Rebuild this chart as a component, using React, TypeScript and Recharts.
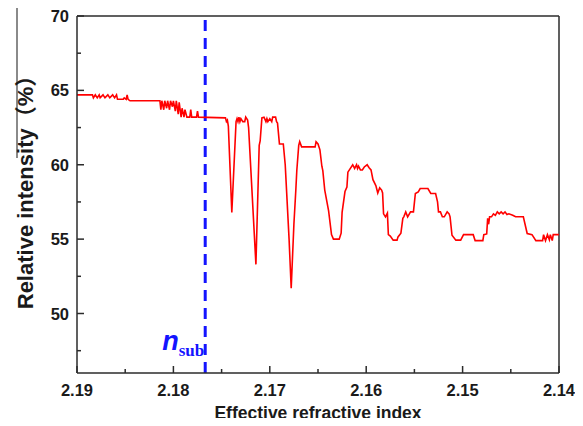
import { LineChart, Line, XAxis, YAxis, ReferenceLine } from "recharts";

// values (x descends from 2.19 to 2.14)
const refIndex = [
  2.19, 2.1884, 2.1883, 2.1881, 2.1879, 2.1877, 2.1876, 2.1873, 2.1871, 2.1868,
  2.1866, 2.1863, 2.1861, 2.1859, 2.1858, 2.1852, 2.1851, 2.1849, 2.1848, 2.1847,
  2.1845, 2.1814, 2.1813, 2.1812, 2.181, 2.1809, 2.1807, 2.1806, 2.1804, 2.1803,
  2.1801, 2.18, 2.1798, 2.1797, 2.1795, 2.1794, 2.1792, 2.1791, 2.1789, 2.1788,
  2.1786, 2.1783, 2.1782, 2.1781, 2.1776, 2.1775, 2.1774, 2.1746, 2.1745, 2.1744,
  2.1743, 2.17394, 2.1735, 2.1734, 2.1733, 2.1732, 2.1731, 2.173, 2.1728, 2.1726,
  2.1725, 2.1723, 2.1722, 2.17144, 2.1711, 2.171, 2.17082, 2.1706, 2.1704, 2.1703,
  2.1702, 2.17, 2.1698, 2.1697, 2.1694, 2.1693, 2.1692, 2.169, 2.1686, 2.1684,
  2.168, 2.16778, 2.1675, 2.1673, 2.1672, 2.167, 2.1669, 2.1667, 2.1653, 2.1652,
  2.165, 2.1648, 2.1646, 2.1645, 2.1643, 2.1639, 2.1636, 2.1634, 2.1628, 2.1626,
  2.1625, 2.1622, 2.162, 2.1619, 2.1614, 2.1612, 2.161, 2.1609, 2.1608, 2.1606,
  2.1604, 2.1602, 2.1599, 2.1597, 2.1595, 2.1593, 2.159, 2.1588, 2.1586, 2.1584,
  2.1583, 2.1582, 2.158, 2.1578, 2.1577, 2.1575, 2.1572, 2.1568, 2.1567, 2.1564,
  2.1562, 2.1561, 2.1559, 2.1557, 2.1554, 2.1551, 2.1549, 2.1546, 2.1544, 2.1536,
  2.1533, 2.1528, 2.1526, 2.1525, 2.1523, 2.1521, 2.1519, 2.1516, 2.1514, 2.1513,
  2.1511, 2.1507, 2.1502, 2.1499, 2.1489, 2.1487, 2.1479, 2.1478, 2.1475, 2.1474,
  2.1473, 2.1472, 2.147, 2.1468, 2.1466, 2.1464, 2.1462, 2.146, 2.1458, 2.1456,
  2.1454, 2.1452, 2.1448, 2.1445, 2.1437, 2.1433, 2.1428, 2.1424, 2.1417, 2.1416,
  2.1414, 2.1412, 2.141, 2.1409, 2.1407, 2.1406, 2.14,
];

const intensity = [
  64.7, 64.7, 64.5, 64.7, 64.5, 64.7, 64.5, 64.7, 64.5, 64.7,
  64.5, 64.7, 64.5, 64.7, 64.4, 64.4, 64.5, 64.4, 64.7, 64.4,
  64.3, 64.3, 63.7, 64.3, 63.7, 64.3, 63.8, 64.3, 63.7, 64.3,
  63.9, 64.3, 63.6, 64.3, 63.4, 64.2, 63.2, 63.8, 63.2, 63.7,
  63.2, 63.2, 63.7, 63.2, 63.2, 63.6, 63.2, 63.15, 62.9, 63.0,
  62.6, 56.8, 62.9, 63.1, 62.9, 63.2, 62.9, 63.1, 62.9, 62.9,
  63.2, 63.0, 62.5, 53.3, 61.3, 61.6, 63.15, 63.2, 62.9, 63.1,
  62.9, 63.1, 62.9, 63.2, 63.2, 62.9, 62.8, 61.4, 61.4, 60.0,
  55.0, 51.7, 56.0, 58.3, 59.6, 61.3, 61.55, 61.2, 61.2, 61.55,
  61.4, 61.0, 59.9, 59.6, 58.3, 56.9, 55.3, 55.0, 55.0, 55.4,
  56.8, 58.2, 58.5, 59.5, 60.0, 59.75, 60.0, 59.75, 59.9, 59.65,
  59.65, 59.85, 60.0, 59.8, 59.65, 59.0, 58.6, 58.1, 58.45, 58.3,
  58.1, 56.7, 56.5, 56.75, 55.3, 55.2, 54.93, 54.93, 55.15, 55.4,
  56.4, 56.5, 56.83, 56.5, 56.83, 56.83, 58.07, 58.18, 58.4, 58.4,
  58.07, 58.07, 57.5, 56.83, 56.83, 56.5, 56.5, 56.83, 56.7, 56.5,
  55.26, 54.93, 54.93, 55.3, 55.3, 54.9, 54.9, 55.3, 55.35, 56.4,
  56.0, 56.5, 56.5, 56.7, 56.6, 56.83, 56.7, 56.83, 56.7, 56.83,
  56.65, 56.7, 56.6, 56.5, 56.5, 55.38, 55.3, 54.9, 54.9, 55.3,
  54.9, 55.3, 54.95, 55.3, 54.9, 55.3, 55.3,
];

const xTicks = [2.19, 2.185, 2.18, 2.175, 2.17, 2.165, 2.16, 2.155, 2.15, 2.145, 2.14];
const xTickLabels = ["2.19", "", "2.18", "", "2.17", "", "2.16", "", "2.15", "", "2.14"];
const yTicks = [47.5, 50, 52.5, 55, 57.5, 60, 62.5, 65, 67.5, 70];
const yTickLabels = ["", "50", "", "55", "", "60", "", "65", "", "70"];

const nSub = 2.1767;

const data = refIndex.map((x, i) => ({ x, y: intensity[i] }));

const AXIS = "#2b2b2b";
const FONT = "'Liberation Sans', Arial, 'Noto Sans CJK SC', sans-serif";
const BLUE = "#1414ff";

const XTick = (props: any) => {
  const { x, y, index } = props;
  const label = xTickLabels[index];
  return (
    <g>
      <line x1={x} x2={x} y1={y} y2={y - (label ? 7 : 4)} stroke={AXIS} strokeWidth={1.5} />
      {label && (
        <text x={x} y={y + 23} textAnchor="middle" fontFamily={FONT} fontWeight="bold" fontSize={16.5} fill="#1a1a1a">
          {label}
        </text>
      )}
    </g>
  );
};

const YTick = (props: any) => {
  const { x, y, index } = props;
  const label = yTickLabels[index];
  return (
    <g>
      <line x1={x} x2={x + (label ? 7 : 4)} y1={y} y2={y} stroke={AXIS} strokeWidth={1.5} />
      {label && (
        <text x={x - 8} y={y + 6} textAnchor="end" fontFamily={FONT} fontWeight="bold" fontSize={16.5} fill="#1a1a1a">
          {label}
        </text>
      )}
    </g>
  );
};

const NSubLabel = (props: any) => {
  const vb = props.viewBox || { x: 205, y: 16, height: 357 };
  return (
    <text x={vb.x - 43} y={vb.y + vb.height - 23} fill={BLUE} fontFamily={FONT} fontWeight="bold" fontStyle="italic" fontSize={27}>
      n
      <tspan dy={6} fontFamily="'Liberation Serif', 'Times New Roman', serif" fontStyle="normal" fontSize={17}>
        sub
      </tspan>
    </text>
  );
};

// y title plus the grey edge stroke that sits left of it in the source image
const YTitle = () => (
  <g>
    <line x1={17} x2={17} y1={8} y2={158} stroke="#8a8a8a" strokeWidth={2} />
    <text
      transform="translate(33,187) rotate(-90)"
      textAnchor="middle"
      fontFamily={FONT}
      fontWeight="bold"
      fontSize={22}
      fill="#1a1a1a"
    >
      Relative intensity（%）
    </text>
  </g>
);

export default function App() {
  return (
    <div style={{ width: 583, height: 426, margin: -8, background: "#fff" }}>
      <LineChart width={583} height={426} data={data} margin={{ top: 16, right: 24, bottom: 23, left: 27 }}>
        <XAxis
          dataKey="x"
          type="number"
          domain={[2.14, 2.19]}
          reversed
          allowDataOverflow
          ticks={xTicks}
          interval={0}
          tick={<XTick />}
          tickLine={false}
          tickSize={0}
          tickMargin={0}
          height={30}
          axisLine={{ stroke: AXIS, strokeWidth: 1.5 }}
          label={{
            value: "Effective refractive index",
            position: "bottom",
            offset: 4,
            style: { fontFamily: FONT, fontWeight: "bold", fontSize: 17.5, fill: "#1a1a1a" },
          }}
        />
        <YAxis
          type="number"
          domain={[46, 70]}
          allowDataOverflow
          ticks={yTicks}
          interval={0}
          tick={<YTick />}
          tickLine={false}
          tickSize={0}
          tickMargin={0}
          width={50}
          axisLine={{ stroke: AXIS, strokeWidth: 1.5 }}
          label={() => <YTitle />}
        />
        <ReferenceLine y={70} stroke={AXIS} strokeWidth={1.5} />
        <ReferenceLine x={2.14} stroke={AXIS} strokeWidth={1.5} />
        <ReferenceLine
          x={nSub}
          stroke={BLUE}
          strokeWidth={3}
          strokeDasharray="11 7"
          label={(p: any) => <NSubLabel {...p} />}
        />
        <Line
          type="linear"
          dataKey="y"
          stroke="#ff0000"
          strokeWidth={1.6}
          dot={false}
          isAnimationActive={false}
        />
      </LineChart>
    </div>
  );
}
